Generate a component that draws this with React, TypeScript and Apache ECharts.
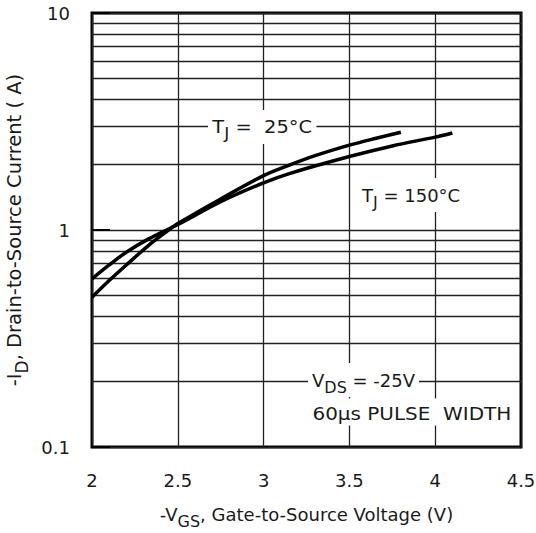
import React, { useEffect, useRef } from "react";
import * as echarts from "echarts";

// -V_GS (V) and -I_D (A) for each junction temperature
const vgs25 = [2.0, 2.1, 2.2, 2.33, 2.44, 2.5, 2.75, 3.0, 3.15, 3.3, 3.5, 3.65, 3.8];
const id25 = [0.49, 0.585, 0.69, 0.85, 0.99, 1.07, 1.39, 1.78, 1.99, 2.2, 2.46, 2.64, 2.82];

const vgs150 = [2.0, 2.1, 2.2, 2.33, 2.5, 2.75, 3.0, 3.15, 3.5, 3.75, 4.0, 4.1];
const id150 = [0.595, 0.69, 0.79, 0.91, 1.06, 1.35, 1.65, 1.82, 2.18, 2.44, 2.68, 2.8];

// axis tick values
const xTicks = [2, 2.5, 3, 3.5, 4, 4.5];
const yMajor = [0.1, 1, 10];
const yMinor = [0.2, 0.3, 0.4, 0.5, 0.6, 0.7, 0.8, 0.9, 2, 3, 4, 5, 6, 7, 8, 9];

const FONT = "DejaVu Sans";
const TXT = "#1a1a1a";

const mainSty = { fontFamily: FONT, fontSize: 18, color: TXT, fill: TXT };
const subSty = { fontFamily: FONT, fontSize: 16, color: TXT, fill: TXT, padding: [14, 0, 0, 0] };

export default function App() {
  const ref = useRef<HTMLDivElement>(null);
  useEffect(() => {
    if (!ref.current) return;
    const chart = echarts.init(ref.current, null, { renderer: "svg" });
    const pts = (xs: number[], ys: number[]) => xs.map((x, i) => [x, ys[i]]);
    const annot = (
      x: number,
      y: number,
      text: string,
      pad: number[] = [2, 4, 2, 4],
      scaleX = 1
    ) => ({
      type: "text",
      x,
      y,
      z: 100,
      scaleX,
      style: {
        text,
        rich: { m: mainSty, s: subSty },
        fontFamily: FONT,
        fontSize: 18,
        fill: TXT,
        align: "left",
        verticalAlign: "middle",
        backgroundColor: "#fff",
        padding: pad,
      },
    });
    chart.setOption({
      animation: false,
      backgroundColor: "#fff",
      grid: {
        left: 92,
        right: 15,
        top: 13,
        bottom: 86,
        show: true,
        containLabel: false,
        outerBoundsMode: "none",
        borderColor: "#000",
        borderWidth: 3,
        backgroundColor: "transparent",
      },
      xAxis: {
        type: "value",
        min: xTicks[0],
        max: xTicks[xTicks.length - 1],
        interval: 0.5,
        axisLine: { show: false },
        axisTick: { show: false },
        axisLabel: { fontFamily: FONT, fontSize: 18, color: TXT, margin: 24 },
        splitLine: { show: true, lineStyle: { color: "#222", width: 1.3 } },
        name: "{m|-V}{s|GS}{m|, Gate-to-Source Voltage (V)}",
        nameLocation: "middle",
        nameGap: 52,
        nameTextStyle: { rich: { m: mainSty, s: subSty } },
      },
      yAxis: {
        type: "log",
        logBase: 10,
        min: yMajor[0],
        max: yMajor[yMajor.length - 1],
        axisLine: { show: false },
        axisTick: { show: true, inside: true, length: 18, lineStyle: { color: "#000", width: 2 } },
        axisLabel: {
          fontFamily: FONT,
          fontSize: 18,
          color: TXT,
          margin: 22,
          formatter: (v: number) => String(v),
        },
        splitLine: { show: true, lineStyle: { color: "#222", width: 1.3 } },
        minorTick: { show: false },
        name: "{m|-I}{s|D}{m|, Drain-to-Source Current ( A)}",
        nameLocation: "middle",
        nameGap: 56,
        nameTextStyle: {
          rich: { m: { ...mainSty, fontSize: 19.5 }, s: { ...subSty, fontSize: 17 } },
        },
      },
      series: [
        {
          type: "line",
          data: [],
          silent: true,
          markLine: {
            z: 1,
            silent: true,
            symbol: ["none", "none"],
            label: { show: false },
            lineStyle: { color: "#222", width: 1.3, type: "solid" },
            data: yMinor.map((v) => ({ yAxis: v })),
          },
        },
        {
          name: "TJ=25",
          type: "line",
          z: 3,
          data: pts(vgs25, id25),
          showSymbol: false,
          smooth: 0.3,
          lineStyle: { color: "#000", width: 3.5 },
        },
        {
          name: "TJ=150",
          type: "line",
          z: 3,
          data: pts(vgs150, id150),
          showSymbol: false,
          smooth: 0.3,
          lineStyle: { color: "#000", width: 3.5 },
        },
      ],
      graphic: [
        annot(208, 127, "{m|T}{s|J}{m| =  25°C}", [2, 4, 2, 4], 1.08),
        annot(358, 195, "{m|T}{s|J}{m| = 150°C}"),
        annot(308, 380, "{m|V}{s|DS}{m| = -25V}"),
        annot(308, 412, "{m|60µs PULSE  WIDTH}", [6, 4, 3, 4], 1.11),
      ],
    });
    return () => chart.dispose();
  }, []);
  return (
    <div
      ref={ref}
      style={{ position: "fixed", left: 0, top: 0, width: 536, height: 533, background: "#fff" }}
    />
  );
}
